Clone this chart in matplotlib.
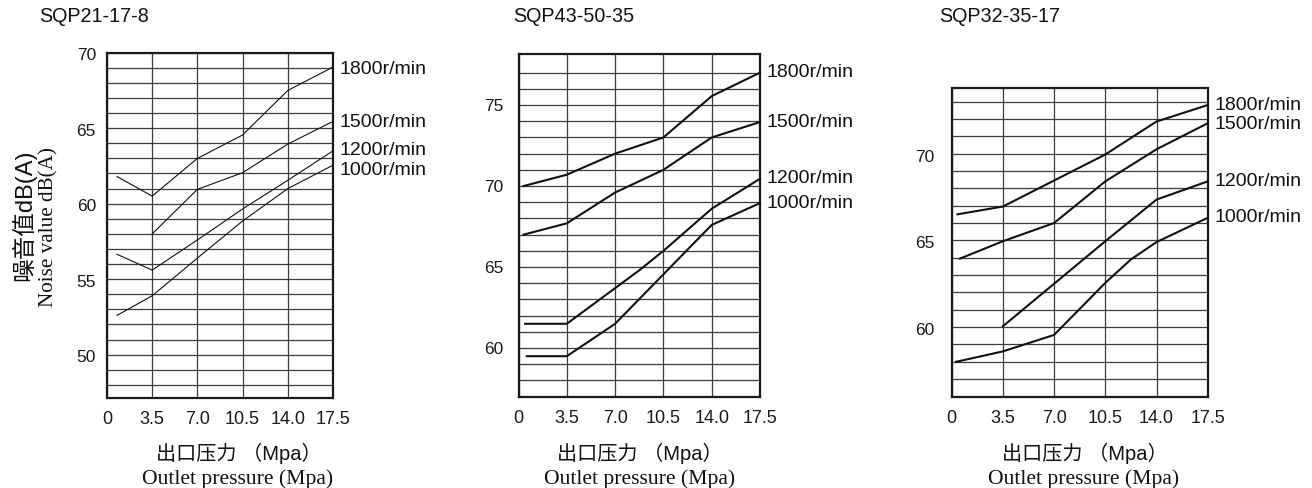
import matplotlib
matplotlib.use("Agg")
import matplotlib.pyplot as plt
from matplotlib.ticker import NullFormatter
import numpy as np

SANS = ["Liberation Sans", "DejaVu Sans"]
SERIF = ["Liberation Serif", "DejaVu Serif"]
CJK = ["Liberation Sans", "Noto Sans CJK SC", "DejaVu Sans"]

speeds = ["1000r/min", "1200r/min", "1500r/min", "1800r/min"]
x_ticks = [0, 3.5, 7.0, 10.5, 14.0, 17.5]
x_tick_labels = ["0", "3.5", "7.0", "10.5", "14.0", "17.5"]

# SQP21-17-8
p1_title = "SQP21-17-8"
p1_y_ticks = [50, 55, 60, 65, 70]
p1_x_1000 = [0.77, 3.5, 7.0, 10.5, 14.0, 17.5]
p1_y_1000 = [52.6, 53.9, 56.4, 58.85, 61.0, 62.55]
p1_x_1200 = [0.77, 3.5, 7.0, 10.5, 14.0, 17.5]
p1_y_1200 = [56.65, 55.6, 57.6, 59.65, 61.55, 63.5]
p1_x_1500 = [3.5, 7.0, 10.5, 14.0, 17.5]
p1_y_1500 = [58.0, 60.95, 62.05, 63.95, 65.45]
p1_x_1800 = [0.77, 3.5, 7.0, 10.5, 14.0, 17.5]
p1_y_1800 = [61.8, 60.5, 63.0, 64.55, 67.5, 69.05]
p1_label_y = [62.2, 63.55, 65.4, 68.9]

# SQP43-50-35
p2_title = "SQP43-50-35"
p2_y_ticks = [60, 65, 70, 75]
p2_x_1000 = [0.6, 3.5, 7.0, 10.5, 14.0, 17.5]
p2_y_1000 = [59.5, 59.5, 61.5, 64.55, 67.6, 68.95]
p2_x_1200 = [0.48, 3.5, 7.0, 8.75, 10.5, 14.0, 17.5]
p2_y_1200 = [61.5, 61.5, 63.7, 64.8, 66.0, 68.6, 70.45]
p2_x_1500 = [0.36, 3.5, 7.0, 10.5, 14.0, 17.5]
p2_y_1500 = [67.0, 67.7, 69.6, 71.0, 73.0, 73.95]
p2_x_1800 = [0.36, 3.5, 7.0, 10.5, 14.0, 17.5]
p2_y_1800 = [70.0, 70.7, 72.0, 73.0, 75.55, 77.0]
p2_label_y = [68.95, 70.45, 73.95, 77.0]

# SQP32-35-17
p3_title = "SQP32-35-17"
p3_y_ticks = [60, 65, 70]
p3_x_1000 = [0.3, 3.5, 7.0, 10.5, 12.25, 14.0, 17.5]
p3_y_1000 = [58.0, 58.6, 59.55, 62.55, 63.9, 64.9, 66.3]
p3_x_1200 = [3.5, 7.0, 10.5, 14.0, 17.5]
p3_y_1200 = [60.05, 62.5, 64.95, 67.35, 68.4]
p3_x_1500 = [0.57, 3.5, 7.0, 10.5, 14.0, 17.5]
p3_y_1500 = [63.95, 64.95, 66.0, 68.4, 70.25, 71.75]
p3_x_1800 = [0.39, 3.5, 7.0, 10.5, 14.0, 17.5]
p3_y_1800 = [66.5, 66.95, 68.45, 69.95, 71.85, 72.8]
p3_label_y = [66.3, 68.4, 71.65, 72.8]

W, H = 1312, 488
fig = plt.figure(figsize=(W / 100, H / 100), dpi=100)


def px_rect(left, top, right, bottom):
    return [left / W, 1 - bottom / H, (right - left) / W, (bottom - top) / H]


panels = [
    dict(title=p1_title, rect=px_rect(107, 52.7, 333, 397.7), ylim=(47.15, 70),
         grid=(48, 70), yticks=p1_y_ticks, lw=0.8, ypad=8, ydy=-2.2,
         curves=[(p1_x_1000, p1_y_1000), (p1_x_1200, p1_y_1200),
                 (p1_x_1500, p1_y_1500), (p1_x_1800, p1_y_1800)],
         label_y=p1_label_y, title_xy=(39, 17), xlab_cx=239, xlab2_cx=238),
    dict(title=p2_title, rect=px_rect(518.5, 54, 760, 396.7), ylim=(57, 78.15),
         grid=(58, 77), yticks=p2_y_ticks, lw=1.5, ypad=11, ydy=-0.8,
         curves=[(p2_x_1000, p2_y_1000), (p2_x_1200, p2_y_1200),
                 (p2_x_1500, p2_y_1500), (p2_x_1800, p2_y_1800)],
         label_y=p2_label_y, title_xy=(513, 17), xlab_cx=640, xlab2_cx=640),
    dict(title=p3_title, rect=px_rect(951.7, 87.7, 1207.7, 396.5), ylim=(56, 73.8),
         grid=(57, 73), yticks=p3_y_ticks, lw=1.5, ypad=12.5, ydy=-2.6,
         curves=[(p3_x_1000, p3_y_1000), (p3_x_1200, p3_y_1200),
                 (p3_x_1500, p3_y_1500), (p3_x_1800, p3_y_1800)],
         label_y=p3_label_y, title_xy=(939, 17), xlab_cx=1085, xlab2_cx=1084),
]

for p in panels:
    ax = fig.add_axes(p["rect"])
    ax.set_xlim(0, 17.5)
    ax.set_ylim(*p["ylim"])

    ax.set_xticks(x_ticks)
    ax.set_xticklabels(x_tick_labels, family=SANS, fontsize=13)
    # 1 dB grid; the values every 5 dB are written beside the frame
    ax.set_yticks(np.arange(p["grid"][0], p["grid"][1] + 1))
    ax.yaxis.set_major_formatter(NullFormatter())
    for v in p["yticks"]:
        ax.annotate(str(v), xy=(0, v), xycoords=("axes fraction", "data"),
                    xytext=(-p["ypad"], p["ydy"]), textcoords="offset points",
                    ha="right", va="center", fontsize=12.5, family=SANS,
                    color="#1a1a1a", annotation_clip=False)
    ax.tick_params(axis="both", length=0, colors="#1a1a1a")
    ax.tick_params(axis="x", pad=9.5)

    ax.grid(True, color="#3c3c3c", linewidth=0.9)
    ax.set_axisbelow(True)
    for s in ax.spines.values():
        s.set_linewidth(1.6)
        s.set_color("#1a1a1a")

    for (xs, ys), name, ly in zip(p["curves"], speeds, p["label_y"]):
        ax.plot(xs, ys, color="#111111", linewidth=p["lw"], solid_joinstyle="miter",
                clip_on=False, zorder=3)
        ax.annotate(name, xy=(17.5, ly), xytext=(5, 0), textcoords="offset points",
                    ha="left", va="center", fontsize=14, family=SANS,
                    color="#111111", annotation_clip=False)

    tx, ty = p["title_xy"]
    fig.text(tx / W, 1 - ty / H, p["title"], ha="left", va="center",
             fontsize=14.2, family=SANS, color="#111111")
    fig.text(p["xlab_cx"] / W, 1 - 453 / H, "出口压力 （Mpa）", ha="center", va="center",
             fontsize=14.5, family=CJK, color="#111111")
    fig.text(p["xlab2_cx"] / W, 1 - 479 / H, "Outlet pressure (Mpa)", ha="center",
             va="center", fontsize=15.6, family=SERIF, color="#111111")

fig.text(24 / W, 1 - 215 / H, "噪音值dB(A)", rotation=90, ha="center", va="center",
         fontsize=17, family=CJK, color="#111111")
fig.text(49 / W, 1 - 227 / H, "Noise value dB(A)", rotation=90, ha="center", va="center",
         fontsize=15.2, family=SERIF, color="#111111")

fig.savefig("out.png", dpi=100, facecolor="white")
